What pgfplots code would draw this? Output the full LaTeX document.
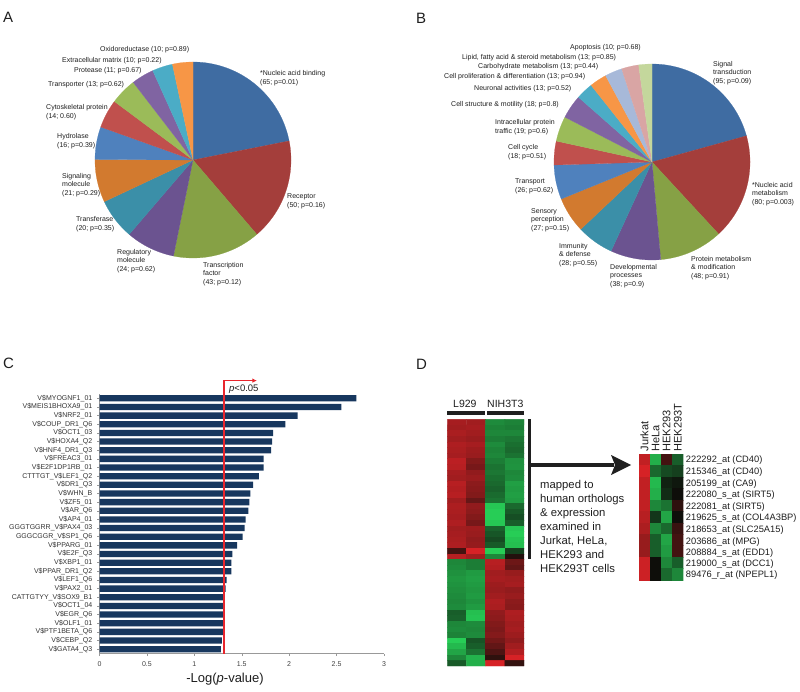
\documentclass[border=0pt]{standalone}
\usepackage{fontspec}
\setmainfont{Liberation Sans}
\usepackage{pgfplots}
\usepackage{pgfplotstable}
\pgfplotsset{compat=1.18}
\usetikzlibrary{arrows.meta}
\definecolor{pA1}{RGB}{63,108,162}
\definecolor{pA2}{RGB}{164,62,59}
\definecolor{pA3}{RGB}{134,161,69}
\definecolor{pA4}{RGB}{107,83,144}
\definecolor{pA5}{RGB}{59,143,168}
\definecolor{pA6}{RGB}{210,122,47}
\definecolor{pB1}{RGB}{79,129,189}
\definecolor{pB2}{RGB}{192,80,77}
\definecolor{pB3}{RGB}{155,187,89}
\definecolor{pB4}{RGB}{128,100,162}
\definecolor{pB5}{RGB}{75,172,198}
\definecolor{pB6}{RGB}{247,150,70}
\definecolor{pC1}{RGB}{167,185,217}
\definecolor{pC2}{RGB}{217,165,164}
\definecolor{pC3}{RGB}{196,215,156}
\definecolor{navy}{RGB}{23,55,94}
\definecolor{txt}{RGB}{30,30,30}
\definecolor{redl}{RGB}{232,38,45}
\newcommand\pf{\fontsize{7}{8.7}\selectfont}
\newcommand{\pie}[2]{%
  \gdef\cum{0}%
  \foreach \v/\c in {#2} {%
    \pgfmathsetmacro\aS{90-(\cum/#1)*360}%
    \pgfmathsetmacro\cumN{\cum+\v}%
    \pgfmathsetmacro\aE{90-(\cumN/#1)*360}%
    \xdef\cum{\cumN}%
    \edef\tmp{\noexpand\addplot[fill=\c, draw=\c, line width=0.2pt, domain=\aE:\aS, samples=60] ({cos(x)},{sin(x)}) -- (axis cs:0,0) -- cycle;}%
    \tmp
  }%
}
\pgfplotstableread{
y x
30 2.71
29 2.55
28 2.09
27 1.96
26 1.83
25 1.82
24 1.81
23 1.73
22 1.73
21 1.68
20 1.62
19 1.59
18 1.58
17 1.57
16 1.54
15 1.53
14 1.51
13 1.45
12 1.40
11 1.39
10 1.39
9 1.34
8 1.33
7 1.31
6 1.30
5 1.30
4 1.30
3 1.30
2 1.29
1 1.28
}\tfbars
\begin{document}
\begin{tikzpicture}
\useasboundingbox (0,0) rectangle (800pt,-692pt);
% ---------------- Pie A
\begin{axis}[at={(95pt,-258pt)}, anchor=south west, scale only axis,
  width=196pt, height=196pt, xmin=-1, xmax=1, ymin=-1, ymax=1, hide axis, clip=false]
\pie{297}{65/pA1,50/pA2,43/pA3,24/pA4,20/pA5,21/pA6,16/pB1,14/pB2,13/pB3,11/pB4,10/pB5,10/pB6}
\end{axis}
% ---------------- Pie B
\begin{axis}[at={(554pt,-260pt)}, anchor=south west, scale only axis,
  width=196pt, height=196pt, xmin=-1, xmax=1, ymin=-1, ymax=1, hide axis, clip=false]
\pie{459}{95/pA1,80/pA2,48/pA3,38/pA4,28/pA5,27/pA6,26/pB1,18/pB2,19/pB3,18/pB4,13/pB5,13/pB6,13/pC1,13/pC2,10/pC3}
\end{axis}
% ---------------- Bar chart C
\begin{axis}[at={(99.5pt,-653.5pt)}, anchor=south west, scale only axis,
  width=284.5pt, height=259.5pt, xmin=0, xmax=3, ymin=0.5, ymax=30.5,
  clip=false,
  axis x line*=bottom, axis y line*=left,
  axis line style={draw=black!40, line width=0.5pt},
  tick style={draw=black!40, line width=0.5pt}, tick align=outside, major tick length=2.5pt,
  xtick={0,0.5,1,1.5,2,2.5,3}, ytick={1,...,30},
  /pgf/number format/assume math mode=true,
  xticklabel style={font=\fontsize{7}{8}\selectfont, text=black!75, yshift=-2pt},
  yticklabel style={font=\fontsize{7}{8}\selectfont, text=black!80, inner sep=1pt, xshift=-3.5pt},
  yticklabels={V\$GATA4\_Q3, V\$CEBP\_Q2, V\$PTF1BETA\_Q6, V\$OLF1\_01, V\$EGR\_Q6, V\$OCT1\_04, CATTGTYY\_V\$SOX9\_B1, V\$PAX2\_01, V\$LEF1\_Q6, V\$PPAR\_DR1\_Q2, V\$XBP1\_01, V\$E2F\_Q3, V\$PPARG\_01, GGGCGGR\_V\$SP1\_Q6, GGGTGGRR\_V\$PAX4\_03, V\$AP4\_01, V\$AR\_Q6, V\$ZF5\_01, V\$WHN\_B, V\$DR1\_Q3, CTTTGT\_V\$LEF1\_Q2, V\$E2F1DP1RB\_01, V\$FREAC3\_01, V\$HNF4\_DR1\_Q3, V\$HOXA4\_Q2, V\$OCT1\_03, V\$COUP\_DR1\_Q6, V\$NRF2\_01, V\$MEIS1BHOXA9\_01, V\$MYOGNF1\_01}
]
\addplot[xbar, bar width=0.73, fill=navy, draw=none] table[x=x, y=y] {\tfbars};
\addplot[sharp plot, color=redl, solid, line width=1.7pt, no marks, -{Latex[length=4.5pt,width=4.5pt]}] coordinates {(1.31,0.5) (1.31,32.05) (1.66,32.05)};
\end{axis}
% ---------------- Heatmap left
\begin{axis}[at={(447.3pt,-666pt)}, anchor=south west, scale only axis,
  width=76.7pt, height=246.7pt, xmin=-0.5, xmax=3.5, ymin=-0.5, ymax=43.5, y dir=reverse, hide axis,
  colormap={rgk}{rgb255(0cm)=(40,215,90); rgb255(1cm)=(14,14,10); rgb255(2cm)=(225,35,40)},
  point meta min=-1, point meta max=1]
\addplot[matrix plot*, mesh/cols=4, point meta=explicit] coordinates {
(0,0)[0.72] (1,0)[0.70] (2,0)[-0.62] (3,0)[-0.58]
(0,1)[0.70] (1,1)[0.72] (2,1)[-0.58] (3,1)[-0.55]
(0,2)[0.74] (1,2)[0.70] (2,2)[-0.60] (3,2)[-0.60]
(0,3)[0.70] (1,3)[0.66] (2,3)[-0.55] (3,3)[-0.52]
(0,4)[0.76] (1,4)[0.72] (2,4)[-0.62] (3,4)[-0.48]
(0,5)[0.74] (1,5)[0.68] (2,5)[-0.58] (3,5)[-0.45]
(0,6)[0.72] (1,6)[0.66] (2,6)[-0.60] (3,6)[-0.50]
(0,7)[0.82] (1,7)[0.55] (2,7)[-0.55] (3,7)[-0.65]
(0,8)[0.80] (1,8)[0.50] (2,8)[-0.50] (3,8)[-0.66]
(0,9)[0.72] (1,9)[0.62] (2,9)[-0.52] (3,9)[-0.60]
(0,10)[0.70] (1,10)[0.66] (2,10)[-0.48] (3,10)[-0.62]
(0,11)[0.80] (1,11)[0.60] (2,11)[-0.45] (3,11)[-0.72]
(0,12)[0.78] (1,12)[0.58] (2,12)[-0.42] (3,12)[-0.70]
(0,13)[0.80] (1,13)[0.55] (2,13)[-0.46] (3,13)[-0.72]
(0,14)[0.70] (1,14)[0.42] (2,14)[-0.50] (3,14)[-0.70]
(0,15)[0.75] (1,15)[0.62] (2,15)[-0.92] (3,15)[-0.45]
(0,16)[0.74] (1,16)[0.60] (2,16)[-0.95] (3,16)[-0.38]
(0,17)[0.72] (1,17)[0.55] (2,17)[-0.95] (3,17)[-0.32]
(0,18)[0.76] (1,18)[0.50] (2,18)[-0.92] (3,18)[-0.40]
(0,19)[0.70] (1,19)[0.68] (2,19)[-0.42] (3,19)[-0.92]
(0,20)[0.72] (1,20)[0.66] (2,20)[-0.36] (3,20)[-0.95]
(0,21)[0.74] (1,21)[0.62] (2,21)[-0.30] (3,21)[-0.90]
(0,22)[0.76] (1,22)[0.64] (2,22)[-0.38] (3,22)[-0.88]
(0,23)[0.25] (1,23)[0.95] (2,23)[-0.95] (3,23)[-0.25]
(0,24)[0.80] (1,24)[0.70] (2,24)[-0.60] (3,24)[0.10]
(0,25)[-0.60] (1,25)[-0.55] (2,25)[0.80] (3,25)[0.45]
(0,26)[-0.62] (1,26)[-0.55] (2,26)[0.78] (3,26)[0.40]
(0,27)[-0.65] (1,27)[-0.70] (2,27)[0.70] (3,27)[0.65]
(0,28)[-0.68] (1,28)[-0.72] (2,28)[0.72] (3,28)[0.70]
(0,29)[-0.66] (1,29)[-0.70] (2,29)[0.68] (3,29)[0.72]
(0,30)[-0.64] (1,30)[-0.68] (2,30)[0.66] (3,30)[0.62]
(0,31)[-0.62] (1,31)[-0.70] (2,31)[0.70] (3,31)[0.66]
(0,32)[-0.60] (1,32)[-0.66] (2,32)[0.76] (3,32)[0.60]
(0,33)[-0.62] (1,33)[-0.70] (2,33)[0.74] (3,33)[0.58]
(0,34)[-0.40] (1,34)[-0.88] (2,34)[0.62] (3,34)[0.76]
(0,35)[-0.42] (1,35)[-0.90] (2,35)[0.60] (3,35)[0.74]
(0,36)[-0.60] (1,36)[-0.62] (2,36)[0.55] (3,36)[0.70]
(0,37)[-0.62] (1,37)[-0.60] (2,37)[0.52] (3,37)[0.72]
(0,38)[-0.58] (1,38)[-0.62] (2,38)[0.56] (3,38)[0.68]
(0,39)[-0.95] (1,39)[-0.35] (2,39)[0.48] (3,39)[0.62]
(0,40)[-0.85] (1,40)[-0.40] (2,40)[0.40] (3,40)[0.70]
(0,41)[-0.75] (1,41)[-0.50] (2,41)[0.30] (3,41)[0.78]
(0,42)[-0.60] (1,42)[-0.82] (2,42)[0.15] (3,42)[0.95]
(0,43)[-0.38] (1,43)[-0.80] (2,43)[0.95] (3,43)[0.18]
};
\end{axis}
% ---------------- Heatmap right
\begin{axis}[at={(639pt,-580pt)}, anchor=south west, scale only axis,
  width=44.3pt, height=126pt, xmin=-0.5, xmax=3.5, ymin=-0.5, ymax=10.5, y dir=reverse, hide axis,
  colormap={rgk}{rgb255(0cm)=(40,215,90); rgb255(1cm)=(14,14,10); rgb255(2cm)=(225,35,40)},
  point meta min=-1, point meta max=1]
\addplot[matrix plot*, mesh/cols=4, point meta=explicit] coordinates {
(0,0)[0.85] (1,0)[-0.80] (2,0)[0.25] (3,0)[-0.40]
(0,1)[0.95] (1,1)[-0.45] (2,1)[-0.30] (3,1)[-0.25]
(0,2)[0.85] (1,2)[-0.85] (2,2)[-0.10] (3,2)[-0.05]
(0,3)[0.85] (1,3)[-0.80] (2,3)[-0.15] (3,3)[0.00]
(0,4)[0.85] (1,4)[-0.60] (2,4)[-0.50] (3,4)[0.15]
(0,5)[0.80] (1,5)[-0.20] (2,5)[-0.75] (3,5)[0.00]
(0,6)[0.75] (1,6)[-0.60] (2,6)[-0.45] (3,6)[0.20]
(0,7)[0.65] (1,7)[-0.40] (2,7)[-0.75] (3,7)[0.25]
(0,8)[0.65] (1,8)[-0.40] (2,8)[-0.70] (3,8)[0.25]
(0,9)[0.90] (1,9)[0.00] (2,9)[-0.60] (3,9)[-0.40]
(0,10)[0.90] (1,10)[0.00] (2,10)[-0.45] (3,10)[-0.60]
};
\end{axis}
% ---------------- annotations
\begin{scope}[x=1pt, y=-1pt, every node/.style={text=txt, inner sep=0pt}]
\node[anchor=west, font=\fontsize{15}{15}\selectfont] at (3,17.5) {A};
\node[anchor=west, font=\fontsize{15}{15}\selectfont] at (416,18) {B};
\node[anchor=west, font=\fontsize{15}{15}\selectfont] at (3,363.5) {C};
\node[anchor=west, font=\fontsize{15}{15}\selectfont] at (416,364) {D};
% pie A labels
\begin{scope}[every node/.append style={anchor=west, align=left, font=\pf}]
\node at (100,50) {Oxidoreductase (10; p=0.89)};
\node at (62,61) {Extracellular matrix (10; p=0.22)};
\node at (74,71) {Protease (11; p=0.67)};
\node at (48,85) {Transporter (13; p=0.62)};
\node at (46,112) {Cytoskeletal protein\\(14; 0.60)};
\node at (57,141.5) {Hydrolase\\(16; p=0.39)};
\node at (62,185) {Signaling\\molecule\\(21; p=0.29)};
\node at (76,224.5) {Transferase\\(20; p=0.35)};
\node at (117,261) {Regulatory\\molecule\\(24; p=0.62)};
\node at (203,274) {Transcription\\factor\\(43; p=0.12)};
\node at (287,201.5) {Receptor\\(50; p=0.16)};
\node at (260,78.5) {*Nucleic acid binding\\(65; p=0.01)};
% pie B labels
\node at (570,48) {Apoptosis (10; p=0.68)};
\node at (462,58) {Lipid, fatty acid \& steroid metabolism (13; p=0.85)};
\node at (478,67) {Carbohydrate metabolism (13; p=0.44)};
\node at (444,77) {Cell proliferation \& differentiation (13; p=0.94)};
\node at (474,89) {Neuronal activities (13; p=0.52)};
\node at (451,105) {Cell structure \& motility (18; p=0.8)};
\node at (495,127) {Intracellular protein\\traffic (19; p=0.6)};
\node at (508,152.5) {Cell cycle\\(18; p=0.51)};
\node at (515,186.5) {Transport\\(26; p=0.62)};
\node at (531,220) {Sensory\\perception\\(27; p=0.15)};
\node at (559,255) {Immunity\\\& defense\\(28; p=0.55)};
\node at (610,276) {Developmental\\processes\\(38; p=0.9)};
\node at (691,268) {Protein metabolism\\\& modification\\(48; p=0.91)};
\node at (752,194) {*Nucleic acid\\metabolism\\(80; p=0.003)};
\node at (713,73) {Signal\\transduction\\(95; p=0.09)};
\end{scope}
% panel C labels
\node[anchor=west, font=\fontsize{9.5}{10}\selectfont] at (229,389.5) {\textit{p}<0.05};
\node[font=\fontsize{13}{14}\selectfont] at (225,679) {-Log(\textit{p}-value)};
% panel D
\node[anchor=west, font=\fontsize{10.5}{12}\selectfont] at (453,404) {L929};
\node[anchor=west, font=\fontsize{10.5}{12}\selectfont] at (487,404) {NIH3T3};
\fill[black!88] (447,411) rectangle (485,414.5);
\fill[black!88] (487,411) rectangle (524,414.5);
\fill[black!88] (527.5,419) rectangle (530.5,559);
\fill[black!88] (529,463) rectangle (614,467);
\fill[black!88] (611,455) -- (631,465) -- (611,475) -- (615,465) -- cycle;
\node[anchor=west, align=left, font=\fontsize{11.3}{14.1}\selectfont] at (540,526.5) {mapped to\\human orthologs\\\& expression\\examined in\\Jurkat, HeLa,\\HEK293 and\\HEK293T cells};
\begin{scope}[every node/.append style={rotate=90, anchor=west, font=\fontsize{11}{12}\selectfont}]
\node at (644.5,451.5) {Jurkat};
\node at (655.6,451.5) {HeLa};
\node at (666.7,451.5) {HEK293};
\node at (677.8,451.5) {HEK293T};
\end{scope}
\begin{scope}[every node/.append style={anchor=west, font=\fontsize{9.3}{10}\selectfont}]
\node at (685.7,460) {222292\_at (CD40)};
\node at (685.7,471.7) {215346\_at (CD40)};
\node at (685.7,483.7) {205199\_at (CA9)};
\node at (685.7,495.3) {222080\_s\_at (SIRT5)};
\node at (685.7,507) {222081\_at (SIRT5)};
\node at (685.7,518.3) {219625\_s\_at (COL4A3BP)};
\node at (685.7,530) {218653\_at (SLC25A15)};
\node at (685.7,541.7) {203686\_at (MPG)};
\node at (685.7,552.7) {208884\_s\_at (EDD1)};
\node at (685.7,564) {219000\_s\_at (DCC1)};
\node at (685.7,575.3) {89476\_r\_at (NPEPL1)};
\end{scope}
\end{scope}
\end{tikzpicture}
\end{document}
